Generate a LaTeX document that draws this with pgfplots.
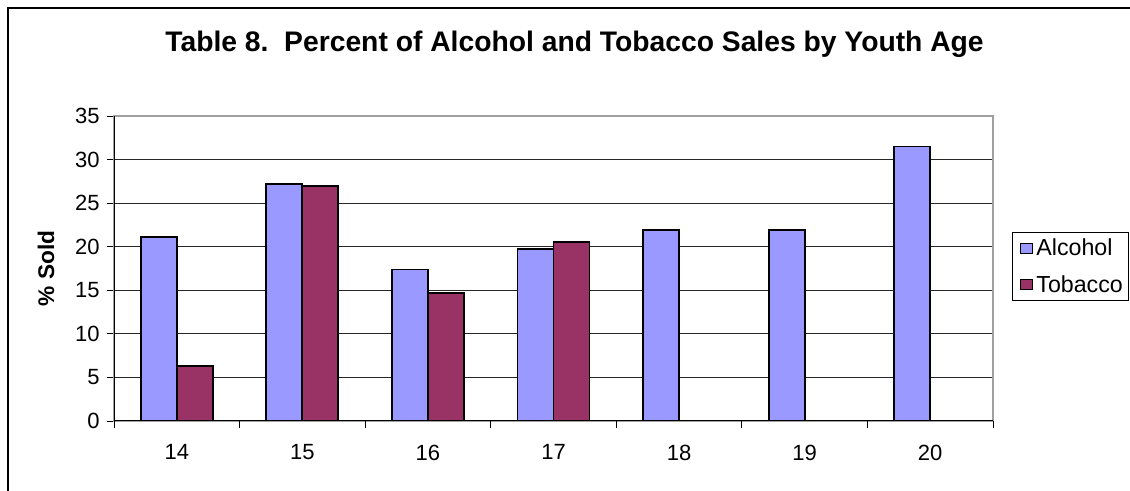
\documentclass[border=0pt]{standalone}
\usepackage{pgfplots}
\pgfplotsset{compat=1.18}
\usepackage{fontspec}
\setmainfont{Liberation Sans}
\definecolor{alc}{RGB}{153,153,255}
\definecolor{tob}{RGB}{153,51,102}
\definecolor{bordergray}{RGB}{160,160,160}
\begin{document}
\begin{tikzpicture}
\useasboundingbox (0,0) rectangle (847.5pt,368.25pt);
\draw[line width=2pt] (6pt,-10pt) -- (6pt,362.25pt) -- (900pt,362.25pt);
\node[anchor=base, font=\bfseries\fontsize{21.2}{25}\selectfont] at (430.9pt,329.5pt) {Table 8.\ \ Percent of Alcohol and Tobacco Sales by Youth Age};
\node[rotate=90, font=\bfseries\fontsize{17}{20}\selectfont] at (34.5pt,166.9pt) {\% Sold};
\begin{axis}[
  at={(85.5pt,52.5pt)}, anchor=south west,
  scale only axis, width=659.25pt, height=228.75pt,
  xmin=-0.5, xmax=6.5, ymin=0, ymax=35,
  ybar=0pt, bar width=27pt,
  xtick={0,...,6}, xticklabels={14,15,16,17,18,19,20},
  x tick style={draw=none},
  extra x ticks={-0.5,0.5,1.5,2.5,3.5,4.5,5.5,6.5},
  extra x tick labels={},
  extra x tick style={x tick style={draw=black, line width=0.6pt}, major tick length=5.25pt, grid=none},
  ytick={0,5,...,35},
  y tick style={draw=black, line width=0.6pt},
  major tick length=5.25pt,
  tick align=outside, tick pos=left,
  ymajorgrids, grid style={black!85, line width=0.6pt},
  axis line style={bordergray, line width=0.8pt},
  tick label style={font=\fontsize{16.5}{19}\selectfont},
  /pgf/number format/assume math mode=true,
  xticklabel style={yshift=-9pt},
  yticklabel style={xshift=-2pt},
  legend style={at={(1.0216,0.6197)}, anchor=north west, draw=black, line width=0.6pt,
    font=\fontsize{17.4}{20}\selectfont, row sep=9pt, inner xsep=2pt, inner ysep=3pt},
  legend cell align=left,
  legend image code/.code={\path[draw=none, fill=none] (0pt,0pt) -- (14pt,0pt);\draw[#1, line width=0.6pt] (4pt,-3.9pt) rectangle (13pt,3.9pt);},
]
\addplot[fill=alc, draw=black, line width=1.3pt] coordinates {(0,21.15) (1,27.2) (2,17.4) (3,19.7) (4,21.95) (5,21.95) (6,31.5)};
\addplot[fill=tob, draw=black, line width=1.3pt] coordinates {(0,6.3) (1,27.0) (2,14.65) (3,20.5)};
\legend{Alcohol,Tobacco}
\draw[black, line width=1pt] (rel axis cs:0,1) -- (rel axis cs:0,0) -- (rel axis cs:1,0);
\end{axis}
\end{tikzpicture}
\end{document}
